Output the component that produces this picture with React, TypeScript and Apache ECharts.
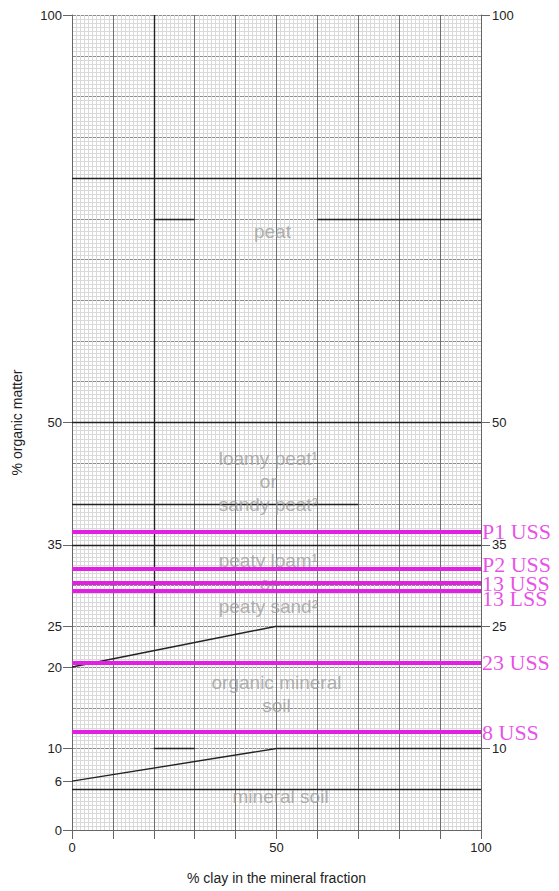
import React, { useEffect, useRef } from 'react';
import * as echarts from 'echarts';

// ---- data ----
const xLabelValues = [0, 50, 100];
const leftTickValues = [0, 6, 10, 20, 25, 35, 50, 100];
const rightTickValues = [10, 25, 35, 50, 100];

const sampleNames = ['P1 USS', 'P2 USS', '13 USS', '13 LSS', '23 USS', '8 USS'];
const sampleOrganic = [36.6, 32.0, 30.3, 29.3, 20.5, 12.0];

// class boundary segments: [clay1, om1, clay2, om2]
const boundarySegments = [
  [20, 25, 20, 100],
  [0, 80, 100, 80],
  [20, 75, 30, 75],
  [60, 75, 100, 75],
  [0, 50, 100, 50],
  [0, 40, 70, 40],
  [0, 35, 100, 35],
  [0, 20, 50, 25],
  [50, 25, 100, 25],
  [0, 6, 50, 10],
  [50, 10, 100, 10],
  [20, 10, 30, 10],
  [0, 5, 100, 5],
];

const regionNames = [
  'peat',
  'loamy peat¹\nor\nsandy peat²',
  'peaty loam¹\nor\npeaty sand²',
  'organic mineral\nsoil',
  'mineral soil',
];
const regionClay = [49, 48, 48, 50, 51];
const regionOrganic = [73.4, 42.8, 30.2, 16.7, 4.05];

// ---- styles ----
const MAGENTA = '#e41fe4';
const SANS = 'Liberation Sans, Arial, sans-serif';
const SERIF = 'Liberation Serif, Times New Roman, serif';
const labelShift = [0, -5, 0, 7, 0, 0];

const hiddenAxisParts = {
  axisLine: { show: false },
  axisTick: { show: false },
  axisLabel: { show: false },
};

export default function App() {
  const ref = useRef<HTMLDivElement>(null);

  useEffect(() => {
    document.body.style.margin = '0';
    if (!ref.current) return;
    const chart = echarts.init(ref.current, null, { renderer: 'svg' });

    const option: any = {
      animation: false,
      backgroundColor: '#ffffff',
      grid: { left: 72, right: 78, top: 15, bottom: 61, containLabel: false },
      xAxis: [
        {
          type: 'value', min: 0, max: 100, interval: 1, position: 'bottom',
          ...hiddenAxisParts,
          splitLine: { show: true, lineStyle: { color: '#d9d9d9', width: 1 } },
        },
        {
          type: 'value', min: 0, max: 100, interval: 10, position: 'bottom',
          axisLine: { show: true, lineStyle: { color: '#666', width: 1 } },
          axisTick: { show: true, inside: false, length: 9, lineStyle: { color: '#666' } },
          axisLabel: {
            show: true,
            margin: 11,
            fontSize: 13,
            color: '#222',
            fontFamily: SANS,
            formatter: (v: number) => (xLabelValues.includes(v) ? String(v) : ''),
          },
          splitLine: { show: true, lineStyle: { color: '#6e6e6e', width: 1 } },
          name: '% clay in the mineral fraction',
          nameLocation: 'middle',
          nameGap: 41,
          nameTextStyle: { fontSize: 14, color: '#222', fontFamily: SANS },
        },
      ],
      yAxis: [
        {
          type: 'value', min: 0, max: 100, interval: 0.5, position: 'left',
          ...hiddenAxisParts,
          splitLine: { show: true, lineStyle: { color: '#d9d9d9', width: 1 } },
        },
        {
          type: 'value', min: 0, max: 100, interval: 5, position: 'left',
          ...hiddenAxisParts,
          splitLine: { show: true, lineStyle: { color: '#8c8c8c', width: 1 } },
        },
        {
          type: 'value', min: 0, max: 100, position: 'left',
          axisLine: { show: true, lineStyle: { color: '#666', width: 1 } },
          axisTick: {
            show: true, inside: false, length: 9, lineStyle: { color: '#666' },
            customValues: leftTickValues,
          },
          axisLabel: {
            show: true, margin: 10, fontSize: 13, color: '#222', fontFamily: SANS,
            customValues: leftTickValues,
          },
          splitLine: { show: false },
          name: '% organic matter',
          nameLocation: 'middle',
          nameRotate: 90,
          nameGap: 48,
          nameTextStyle: { fontSize: 14, color: '#222', fontFamily: SANS },
        },
        {
          type: 'value', min: 0, max: 100, position: 'right',
          axisLine: { show: true, lineStyle: { color: '#666', width: 1 } },
          axisTick: {
            show: true, inside: false, length: 9, lineStyle: { color: '#666' },
            customValues: rightTickValues,
          },
          axisLabel: {
            show: true, margin: 11, fontSize: 13, color: '#222', fontFamily: SANS,
            customValues: rightTickValues,
          },
          splitLine: { show: false },
        },
      ],
      series: [
        {
          type: 'lines',
          coordinateSystem: 'cartesian2d',
          xAxisIndex: 1,
          yAxisIndex: 2,
          z: 3,
          silent: true,
          lineStyle: { color: '#222', width: 1.4, opacity: 1 },
          data: boundarySegments.map((s) => ({ coords: [[s[0], s[1]], [s[2], s[3]]] })),
        },
        {
          type: 'scatter',
          xAxisIndex: 1,
          yAxisIndex: 2,
          z: 4,
          symbolSize: 0,
          silent: true,
          data: regionNames.map((n, i) => ({ name: n, value: [regionClay[i], regionOrganic[i]] })),
          label: {
            show: true,
            position: 'inside',
            formatter: '{b}',
            color: '#9c9c9c',
            fontSize: 19,
            lineHeight: 23,
            fontFamily: SANS,
            align: 'center',
            verticalAlign: 'middle',
          },
        },
        {
          type: 'lines',
          coordinateSystem: 'cartesian2d',
          xAxisIndex: 1,
          yAxisIndex: 2,
          z: 6,
          silent: true,
          lineStyle: { color: MAGENTA, width: 4, opacity: 1 },
          data: sampleOrganic.map((v) => ({ coords: [[0, v], [100, v]] })),
        },
        {
          type: 'scatter',
          xAxisIndex: 1,
          yAxisIndex: 2,
          z: 7,
          symbolSize: 0,
          silent: true,
          clip: false,
          data: sampleNames.map((n, i) => ({
            name: n,
            value: [100, sampleOrganic[i]],
            label: { offset: [0, labelShift[i]] },
          })),
          label: {
            show: true,
            position: 'right',
            distance: 1,
            formatter: '{b}',
            color: MAGENTA,
            fontSize: 22,
            fontFamily: SERIF,
          },
        },
      ],
    };

    chart.setOption(option);
    return () => chart.dispose();
  }, []);

  return <div ref={ref} style={{ width: 559, height: 891 }} />;
}
